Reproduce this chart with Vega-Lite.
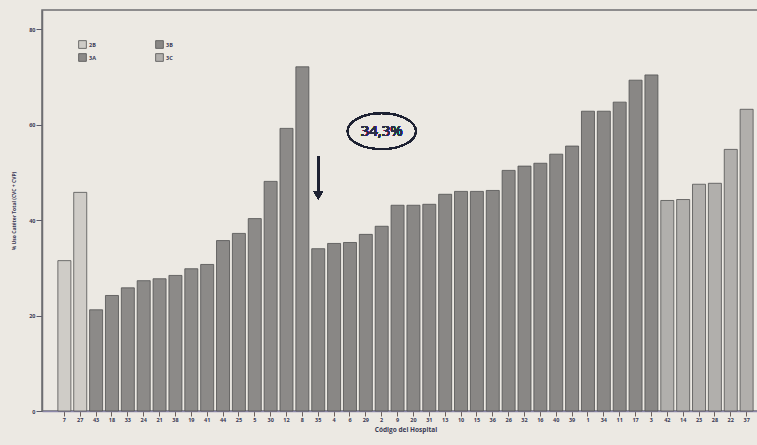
{
  "$schema": "https://vega.github.io/schema/vega-lite/v6.json",
  "autosize": "none",
  "width": 727,
  "height": 401,
  "padding": {"left": 42, "top": 10, "right": 0, "bottom": 34},
  "background": "#ece9e3",
  "config": {
    "view": {"stroke": "#6e6e72", "strokeWidth": 1.5},
    "font": "Open Sans",
    "axis": {"labelFont": "Open Sans", "titleFont": "Open Sans", "labelColor": "#3a3a55", "titleColor": "#3a3a55"}
  },
  "data": {"values": [
    {"hospital": "7", "group": "2B", "value": 31.5},
    {"hospital": "27", "group": "2B", "value": 45.8},
    {"hospital": "43", "group": "3A", "value": 21.2},
    {"hospital": "18", "group": "3A", "value": 24.2},
    {"hospital": "33", "group": "3A", "value": 25.8},
    {"hospital": "24", "group": "3A", "value": 27.3},
    {"hospital": "21", "group": "3A", "value": 27.7},
    {"hospital": "38", "group": "3A", "value": 28.4},
    {"hospital": "19", "group": "3A", "value": 29.8},
    {"hospital": "41", "group": "3A", "value": 30.7},
    {"hospital": "44", "group": "3A", "value": 35.7},
    {"hospital": "25", "group": "3A", "value": 37.2},
    {"hospital": "5", "group": "3A", "value": 40.3},
    {"hospital": "30", "group": "3A", "value": 48.1},
    {"hospital": "12", "group": "3A", "value": 59.2},
    {"hospital": "8", "group": "3A", "value": 72.1},
    {"hospital": "35", "group": "3B", "value": 34.0},
    {"hospital": "4", "group": "3B", "value": 35.1},
    {"hospital": "6", "group": "3B", "value": 35.3},
    {"hospital": "29", "group": "3B", "value": 37.0},
    {"hospital": "2", "group": "3B", "value": 38.7},
    {"hospital": "9", "group": "3B", "value": 43.1},
    {"hospital": "20", "group": "3B", "value": 43.1},
    {"hospital": "31", "group": "3B", "value": 43.3},
    {"hospital": "13", "group": "3B", "value": 45.4},
    {"hospital": "10", "group": "3B", "value": 46.0},
    {"hospital": "15", "group": "3B", "value": 46.0},
    {"hospital": "36", "group": "3B", "value": 46.2},
    {"hospital": "26", "group": "3B", "value": 50.4},
    {"hospital": "32", "group": "3B", "value": 51.3},
    {"hospital": "16", "group": "3B", "value": 51.9},
    {"hospital": "40", "group": "3B", "value": 53.8},
    {"hospital": "39", "group": "3B", "value": 55.5},
    {"hospital": "1", "group": "3B", "value": 62.8},
    {"hospital": "34", "group": "3B", "value": 62.8},
    {"hospital": "11", "group": "3B", "value": 64.7},
    {"hospital": "17", "group": "3B", "value": 69.3},
    {"hospital": "3", "group": "3B", "value": 70.4},
    {"hospital": "42", "group": "3C", "value": 44.1},
    {"hospital": "14", "group": "3C", "value": 44.3},
    {"hospital": "23", "group": "3C", "value": 47.5},
    {"hospital": "28", "group": "3C", "value": 47.7},
    {"hospital": "22", "group": "3C", "value": 54.8},
    {"hospital": "37", "group": "3C", "value": 63.2}
  ]},
  "encoding": {
    "x": {
      "field": "hospital", "type": "nominal",
      "scale": {
        "domain": ["7","27","43","18","33","24","21","38","19","41","44","25","5","30","12","8","35","4","6","29","2","9","20","31","13","10","15","36","26","32","16","40","39","1","34","11","17","3","42","14","23","28","22","37"],
        "paddingInner": 0.18, "paddingOuter": 1.15
      },
      "axis": {
        "title": "Código del Hospital", "labelAngle": 0, "labelFontSize": 5.5, "labelFontWeight": "bold",
        "titleFontSize": 6.5, "titleFontWeight": "bold", "titlePadding": 4,
        "tickColor": "#6a5f5a", "tickSize": 5, "domainColor": "#8a86a8", "domainWidth": 1.5, "labelPadding": 1
      }
    },
    "y": {
      "field": "value", "type": "quantitative",
      "scale": {"domain": [0, 84], "nice": false},
      "axis": {
        "title": "% Uso Catéter Total (CVC + CVP)", "values": [0, 20, 40, 60, 80], "grid": false,
        "labelFontSize": 5.5, "labelFontWeight": "bold", "titleFontSize": 5, "titlePadding": 12,
        "tickColor": "#5a5a6a", "tickSize": 6, "domainColor": "#6e6e72", "domainWidth": 1.5, "labelPadding": 1
      }
    }
  },
  "layer": [
    {
      "mark": {"type": "bar", "stroke": "#505050", "strokeWidth": 0.8},
      "encoding": {
        "color": {
          "field": "group", "type": "nominal",
          "scale": {"domain": ["2B", "3A", "3B", "3C"], "range": ["#cfccc7", "#8c8a88", "#898785", "#b1afac"]},
          "legend": {
            "title": null, "orient": "none", "legendX": 36, "legendY": 30, "columns": 2,
            "symbolType": "square", "symbolSize": 60, "symbolStrokeColor": "#505050", "symbolStrokeWidth": 0.8,
            "labelFontSize": 5.5, "labelFontWeight": "bold", "labelColor": "#3a3a55", "columnPadding": 58, "rowPadding": 2, "labelOffset": 2
          }
        }
      }
    },
    {
      "mark": {"type": "rule", "color": "#1e2233", "strokeWidth": 2},
      "encoding": {"x": {"datum": "35"}, "y": {"datum": 53.4}, "y2": {"datum": 45.5}}
    },
    {
      "mark": {"type": "point", "shape": "triangle-down", "filled": true, "color": "#1e2233", "size": 90, "opacity": 1},
      "encoding": {"x": {"datum": "35"}, "y": {"datum": 45.2}}
    },
    {
      "mark": {"type": "point", "shape": "M-1.9,0A1.9,1 0 1,0 1.9,0A1.9,1 0 1,0 -1.9,0Z", "filled": false, "stroke": "#1e2233", "strokeWidth": 1.4, "size": 1296, "opacity": 1},
      "encoding": {"x": {"datum": "2"}, "y": {"datum": 58.6}}
    },
    {
      "mark": {"type": "text", "fontSize": 15, "fontWeight": "normal", "color": "#2a2f48", "font": "Open Sans"},
      "encoding": {"x": {"datum": "2"}, "y": {"datum": 58.6}, "text": {"value": "34,3%"}}
    }
  ]
}
